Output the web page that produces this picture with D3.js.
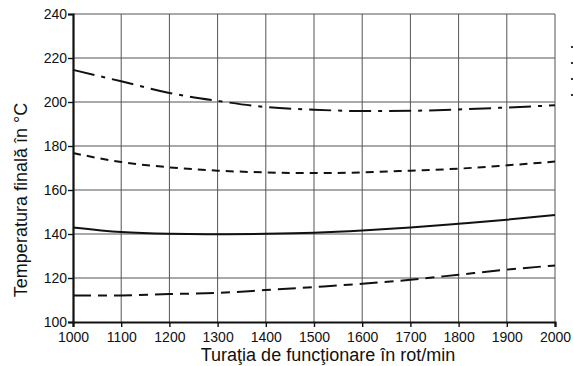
<!DOCTYPE html>
<meta charset="utf-8">
<script src="https://d3js.org/d3.v7.min.js"></script>
<style>
  body { margin: 0; background: #fff; }
  text { font-family: "Liberation Sans", Arial, sans-serif; fill: #111; }
</style>
<div id="chart"></div>
<script>
// values
var speeds = [1000, 1100, 1200, 1300, 1400, 1500, 1600, 1700, 1800, 1900, 2000];
var curveTop    = [214.6, 209.4, 204.1, 200.5, 197.7, 196.5, 195.9, 196.0, 196.6, 197.5, 198.5];
var curveDash   = [176.8, 172.7, 170.3, 168.8, 168.0, 167.7, 168.0, 168.8, 169.7, 171.2, 172.9];
var curveSolid  = [143.0, 140.9, 140.1, 139.9, 140.1, 140.6, 141.6, 143.0, 144.7, 146.5, 148.6];
var curveBottom = [112.1, 112.1, 112.7, 113.2, 114.5, 115.9, 117.4, 119.2, 121.5, 123.8, 125.7];
var xTicks = [1000, 1100, 1200, 1300, 1400, 1500, 1600, 1700, 1800, 1900, 2000];
var yTicks = [100, 120, 140, 160, 180, 200, 220, 240];

var series = [
  {values: curveTop,    dash: "22,7,4,7"},
  {values: curveDash,   dash: "8,6"},
  {values: curveSolid,  dash: null},
  {values: curveBottom, dash: "18,7,9,7"}
];

var margin = {top: 14, right: 18, bottom: 44, left: 73},
    width = 573 - margin.left - margin.right,
    height = 366 - margin.top - margin.bottom;

var svg = d3.select("#chart")
  .append("svg")
    .attr("width", 573)
    .attr("height", 366)
  .append("g")
    .attr("transform", "translate(" + margin.left + "," + margin.top + ")");

var x = d3.scaleLinear().domain([1000, 2000]).range([0, width]);
var y = d3.scaleLinear().domain([100, 240]).range([height, 0]);

// grid
svg.append("g")
  .selectAll("line")
  .data(xTicks.slice(1))
  .enter().append("line")
    .attr("x1", d => x(d)).attr("x2", d => x(d))
    .attr("y1", 0).attr("y2", height)
    .attr("stroke", "#555").attr("stroke-width", 1);
svg.append("g")
  .selectAll("line")
  .data(yTicks.slice(1))
  .enter().append("line")
    .attr("x1", 0).attr("x2", width)
    .attr("y1", d => y(d)).attr("y2", d => y(d))
    .attr("stroke", "#555").attr("stroke-width", 1);

// axes
var xAxis = svg.append("g")
  .attr("transform", "translate(0," + height + ")")
  .call(d3.axisBottom(x).tickValues(xTicks).tickSize(5).tickPadding(5).tickFormat(d3.format("d")));
var yAxis = svg.append("g")
  .call(d3.axisLeft(y).tickValues(yTicks).tickSize(5).tickPadding(1));
[xAxis, yAxis].forEach(function(a) {
  a.select(".domain").attr("stroke", "#111").attr("stroke-width", 2.2);
  a.selectAll(".tick line").attr("stroke", "#111").attr("stroke-width", 1.4);
  a.selectAll(".tick text").style("font-size", "14px").attr("fill", "#111")
    .style("font-family", "'Liberation Sans', Arial, sans-serif");
});

// curves
var line = d3.line()
  .x(function(d, i) { return x(speeds[i]); })
  .y(function(d) { return y(d); })
  .curve(d3.curveMonotoneX);

series.forEach(function(s) {
  svg.append("path")
    .datum(s.values)
    .attr("fill", "none")
    .attr("stroke", "#111")
    .attr("stroke-width", 2)
    .attr("stroke-dasharray", s.dash)
    .attr("d", line);
});

// cut-off legend marks at right edge
svg.append("g")
  .selectAll("rect")
  .data(series)
  .enter().append("rect")
    .attr("x", width + 16)
    .attr("y", (d, i) => 32 + i * 16)
    .attr("width", 2).attr("height", 2)
    .attr("fill", "#333");

// axis labels
svg.append("text")
  .attr("text-anchor", "middle")
  .attr("x", width / 2 + 14)
  .attr("y", height + 39)
  .style("font-size", "18px")
  .text("Turaţia de funcţionare în rot/min");

svg.append("text")
  .attr("text-anchor", "middle")
  .attr("transform", "translate(-46," + (height / 2 + 32) + ") rotate(-90)")
  .style("font-size", "18px")
  .text("Temperatura finală în °C");
</script>
